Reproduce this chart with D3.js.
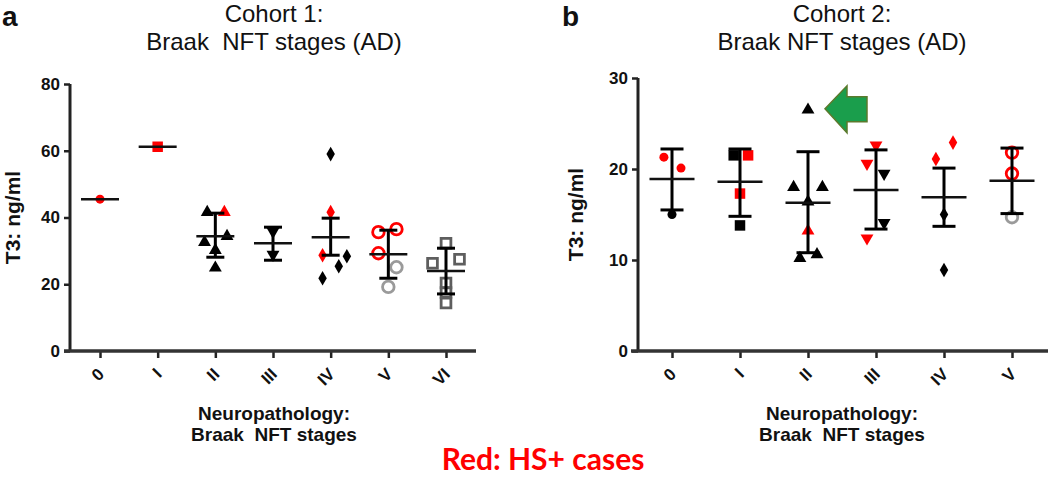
<!DOCTYPE html>
<html><head><meta charset="utf-8">
<script src="https://cdn.jsdelivr.net/npm/d3@7"></script>
<style>
body{margin:0;background:#fff;}
svg text{font-family:"Liberation Sans",Arial,sans-serif;fill:#111;}
</style></head><body>
<svg id="chart" width="1050" height="478"></svg>
<script>
// ---------- Cohort 1 ----------
const cats1 = ["0","I","II","III","IV","V","VI"];
const shapes1 = ["circle","square","triangle","triangleDown","diamond","openCircle","openSquare"];
const vals1 = [[45.5],[61.2],[41.6,41.6,34.4,32.6,30.2,24.9],[35.8,28.9],[59,41.6,28.7,28.4,25.4,21.8],[36.5,35.6,29.3,25.1,19.2],[32.3,27.5,26.3,20.4,17.5,14.4]];
const hs1 = [[1],[1],[0,1,0,0,0,0],[0,0],[0,1,1,0,0,0],[1,1,1,0,0],[0,0,0,0,0,0]];
const jit1 = [[0],[0],[-0.9,1,1.3,-1.2,0,0],[0,0],[0,0,-0.9,1.8,0.9,-0.9],[0.9,-1.1,-1.1,0.9,0],[0,1.5,-1.5,0,0,0]];
const mean1 = [45.5,61.2,34.4,32.3,34.1,29.0,24.0];
const hi1 = [null,null,41.3,37.1,39.8,36.2,30.8];
const lo1 = [null,null,28.1,27.2,28.7,21.8,17.1];
const yTicks1 = [0,20,40,60,80];

// ---------- Cohort 2 ----------
const cats2 = ["0","I","II","III","IV","V"];
const shapes2 = ["circle","square","triangle","triangleDown","diamond","openCircle"];
const vals2 = [[21.3,20.1,15.0],[21.5,21.5,17.3,13.8],[26.5,18.0,18.0,16.4,13.2,10.2,10.6],[22.6,20.6,19.5,14.1,12.4],[22.9,21.1,15.0,8.9],[21.8,19.5,14.7]];
const hs2 = [[1,1,0],[0,1,1,0],[0,0,0,0,1,0,0],[1,1,0,0,1],[1,1,0,0],[1,1,0]];
const jit2 = [[-0.9,1,0],[-0.7,0.9,0,0],[0,-1.6,1.6,0,0,-0.9,1],[0,-1,0.9,0.9,-1],[1,-0.9,0,0],[0,0,0]];
const mean2 = [18.9,18.6,16.3,17.7,16.9,18.7];
const hi2 = [22.2,22.2,21.9,22.1,20.1,22.3];
const lo2 = [15.5,14.8,10.8,13.4,13.7,15.1];
const yTicks2 = [0,10,20,30];

const titles = {a:["Cohort 1:","Braak  NFT stages (AD)"], b:["Cohort 2:","Braak NFT stages (AD)"]};
const xTitle = ["Neuropathology:","Braak  NFT stages"];
const yTitle = "T3: ng/ml";
const note = "Red: HS+ cases";

const svg = d3.select("#chart");
const RED = "#ff0000";

function marker(shape, red) {
  const col = red ? RED : "#000";
  switch (shape) {
    case "circle": return {type:d3.symbolCircle,size:64,fill:col,stroke:"none",rot:0};
    case "square": return {type:d3.symbolSquare,size:110,fill:col,stroke:"none",rot:0};
    case "triangle": return {type:d3.symbolTriangle,size:72,fill:col,stroke:"none",rot:0};
    case "triangleDown": return {type:d3.symbolTriangle,size:72,fill:col,stroke:"none",rot:180};
    case "diamond": return {type:d3.symbolDiamond,size:62,fill:col,stroke:"none",rot:0};
    case "openCircle": return {type:d3.symbolCircle,size:105,fill:"none",stroke:red?RED:"#9a9a9a",rot:0};
    case "openSquare": return {type:d3.symbolSquare,size:95,fill:"none",stroke:red?RED:"#5e5e5e",rot:0};
  }
}

function panel(c) {
  const x = d3.scalePoint().domain(c.cats).range(c.xRange);
  const y = d3.scaleLinear().domain([0, c.yTicks[c.yTicks.length-1]]).range([351, c.yTop]);
  const g = svg.append("g");

  // y axis
  const ya = g.append("g").attr("transform",`translate(${c.yAxisX},0)`)
    .call(d3.axisLeft(y).tickValues(c.yTicks).tickSize(6).tickSizeOuter(0).tickPadding(4));
  ya.select(".domain").remove();
  ya.selectAll(".tick line").attr("stroke","#222").attr("stroke-width",2.5);
  ya.selectAll(".tick text").attr("font-size",17).attr("font-weight","bold").attr("fill","#111")
    .style("font-family","'Liberation Sans',Arial,sans-serif");
  g.append("line").attr("x1",c.yAxisX).attr("x2",c.yAxisX).attr("y1",y.range()[1]).attr("y2",352)
    .attr("stroke","#222").attr("stroke-width",3);

  // x axis
  const xa = g.append("g").attr("transform","translate(0,351)")
    .call(d3.axisBottom(x).tickSize(7).tickSizeOuter(0).tickFormat(""));
  xa.select(".domain").remove();
  xa.selectAll(".tick line").attr("stroke","#222").attr("stroke-width",2.5);
  g.append("line").attr("x1",c.xAxisStart).attr("x2",c.xAxisEnd).attr("y1",351).attr("y2",351)
    .attr("stroke","#333").attr("stroke-width",3.5);
  g.selectAll(".xlab").data(c.cats).join("text").attr("class","xlab")
    .attr("transform",d=>`translate(${x(d)+1},371) rotate(-45)`)
    .attr("text-anchor","end").attr("dy","0.35em")
    .attr("font-size",17).attr("font-weight","bold").text(d=>d);

  // points
  c.cats.forEach((cat,i) => {
    c.vals[i].forEach((v,j) => {
      const m = marker(c.shapes[i], c.hs[i][j]);
      g.append("path").attr("d", d3.symbol().type(m.type).size(m.size)())
        .attr("transform",`translate(${x(cat)+c.jit[i][j]*c.jUnit},${y(v)}) rotate(${m.rot})`)
        .attr("fill",m.fill).attr("stroke",m.stroke).attr("stroke-width",m.fill==="none"?2.8:0);
    });
  });

  // error bars and mean lines
  c.cats.forEach((cat,i) => {
    const cx = x(cat);
    if (c.hi[i] != null) {
      g.append("line").attr("x1",cx).attr("x2",cx).attr("y1",y(c.hi[i])).attr("y2",y(c.lo[i]))
        .attr("stroke","#000").attr("stroke-width",3);
      [c.hi[i], c.lo[i]].forEach(v => g.append("line")
        .attr("x1",cx-c.capW/2).attr("x2",cx+c.capW/2).attr("y1",y(v)).attr("y2",y(v))
        .attr("stroke","#000").attr("stroke-width",3));
    }
    g.append("line").attr("x1",cx-c.meanW/2).attr("x2",cx+c.meanW/2).attr("y1",y(c.mean[i])).attr("y2",y(c.mean[i]))
      .attr("stroke","#111").attr("stroke-width",2.5);
  });

  // y title
  g.append("text").attr("transform",`translate(${c.yTitleX},${(y.range()[1]+351)/2}) rotate(-90)`)
    .attr("text-anchor","middle").attr("font-size",21).attr("font-weight","bold").text(yTitle);

  // titles
  g.append("text").attr("x",c.titleX).attr("y",22).attr("text-anchor","middle").attr("font-size",24).text(c.title[0])
    .style("white-space","pre");
  g.append("text").attr("x",c.titleX).attr("y",50).attr("text-anchor","middle").attr("font-size",24).text(c.title[1])
    .style("white-space","pre");
  g.append("text").attr("x",c.letterX).attr("y",26).attr("font-size",28).attr("font-weight","bold").text(c.letter);

  // x title
  g.append("text").attr("x",c.titleX).attr("y",420).attr("text-anchor","middle").attr("font-size",19).attr("font-weight","bold").text(xTitle[0]);
  g.append("text").attr("x",c.titleX).attr("y",441).attr("text-anchor","middle").attr("font-size",19).attr("font-weight","bold")
    .style("white-space","pre").text(xTitle[1]);
  return {x,y,g};
}

panel({cats:cats1, shapes:shapes1, vals:vals1, hs:hs1, jit:jit1, mean:mean1, hi:hi1, lo:lo1, yTicks:yTicks1,
  xRange:[100,446], yTop:84, yAxisX:70, xAxisStart:64, xAxisEnd:476, jUnit:9, capW:18, meanW:38,
  yTitleX:20, titleX:274, title:titles.a, letter:"a", letterX:2});

const pb = panel({cats:cats2, shapes:shapes2, vals:vals2, hs:hs2, jit:jit2, mean:mean2, hi:hi2, lo:lo2, yTicks:yTicks2,
  xRange:[672,1012], yTop:78, yAxisX:638, xAxisStart:631, xAxisEnd:1048, jUnit:9, capW:23, meanW:45,
  yTitleX:583, titleX:842, title:titles.b, letter:"b", letterX:562});

// green arrow pointing at the outlier in stage II of cohort 2
const tipX = pb.x("II") + 17, tipY = pb.y(vals2[2][0]) - 1;
const arrowShape = [[0,0],[22,-23],[22,-12],[42,-12],[42,13],[22,13],[22,24]];
pb.g.append("polygon")
  .attr("points", arrowShape.map(p=>[tipX+p[0],tipY+p[1]].join(",")).join(" "))
  .attr("fill","#1a9e4c").attr("stroke","#5b7a2c").attr("stroke-width",1.5);

// note
svg.append("text").attr("x",543).attr("y",470).attr("text-anchor","middle")
  .attr("font-size",30).attr("font-weight","bold").style("font-family","Lato,'Open Sans',sans-serif")
  .attr("fill",RED).style("fill",RED).text(note);
</script>
</body></html>
